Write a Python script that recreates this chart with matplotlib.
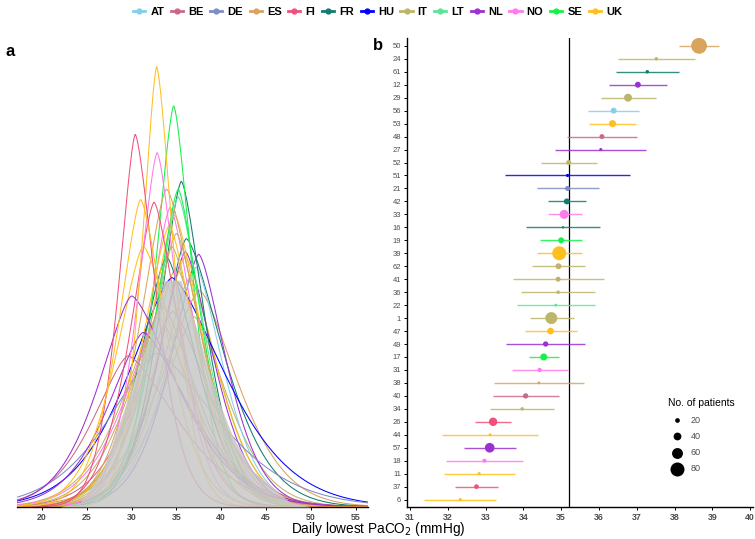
import numpy as np
import matplotlib
matplotlib.use('Agg')
import matplotlib.pyplot as plt
from matplotlib.lines import Line2D

plt.rcParams['font.family'] = ['Liberation Sans', 'DejaVu Sans']

# country colours
countries = ['AT', 'BE', 'DE', 'ES', 'FI', 'FR', 'HU', 'IT', 'LT', 'NL', 'NO', 'SE', 'UK']
colors = ['#87CEEB', '#C96A85', '#7E8CC8', '#D9A45E', '#F2507A', '#127C6E', '#0000FF',
          '#BDB56A', '#5EE39A', '#9A31D0', '#FF7BEA', '#14F24A', '#FFBF1F']
cmap = dict(zip(countries, colors))

# panel b, top to bottom
centers = ['50', '24', '61', '12', '29', '56', '53', '48', '27', '52', '51', '21', '42', '33', '16', '19', '39', '62',
           '41', '36', '22', '1', '47', '49', '17', '31', '38', '40', '34', '26', '44', '57', '18', '11', '37', '6']
country = ['ES', 'IT', 'FR', 'NL', 'IT', 'AT', 'UK', 'BE', 'NL', 'IT', 'HU', 'DE', 'FR', 'NO', 'FR', 'SE', 'UK', 'IT',
           'IT', 'IT', 'LT', 'IT', 'UK', 'NL', 'SE', 'NO', 'ES', 'BE', 'IT', 'FI', 'UK', 'NL', 'NO', 'UK', 'FI', 'UK']
mean = [38.65, 37.52, 37.28, 37.03, 36.77, 36.39, 36.36, 36.08, 36.05, 35.20, 35.17, 35.17, 35.15, 35.08, 35.05, 35.00,
        34.95, 34.93, 34.92, 34.92, 34.86, 34.74, 34.72, 34.59, 34.54, 34.43, 34.41, 34.06, 33.97, 33.20, 33.12, 33.11,
        32.97, 32.83, 32.76, 32.33]
lo = [38.12, 36.51, 36.46, 36.27, 36.06, 35.71, 35.75, 35.16, 34.85, 34.46, 33.52, 34.35, 34.64, 34.66, 34.07, 34.45,
      34.35, 34.23, 33.73, 33.94, 33.83, 34.17, 34.04, 33.55, 34.15, 33.70, 33.23, 33.20, 33.13, 32.73, 31.85, 32.42,
      31.96, 31.89, 32.19, 31.37]
hi = [39.19, 38.53, 38.11, 37.80, 37.50, 37.07, 36.97, 37.00, 37.25, 35.94, 36.82, 35.99, 35.67, 35.55, 36.04, 35.54,
      35.56, 35.64, 36.13, 35.90, 35.90, 35.33, 35.42, 35.63, 34.94, 35.18, 35.60, 34.95, 34.81, 33.67, 34.40, 33.80,
      34.00, 33.78, 33.34, 33.28]
n_pat = [92, 12, 12, 28, 41, 28, 35, 22, 10, 22, 10, 22, 28, 48, 5, 28, 80, 28, 22, 12, 8, 67, 33, 24, 35, 18, 8, 24,
         12, 44, 8, 52, 16, 10, 20, 10]
overall = 35.21

# panel a, density curve per centre (mode, peak height, left / right spread)
d_mode = [37.6, 37.0, 36.1, 37.5, 36.5, 37.2, 36.0, 34.6, 36.0, 35.0, 34.5, 32.8, 35.55, 34.3, 33.9, 34.7, 34.8, 34.5,
          33.0, 34.0, 35.2, 35.0, 34.2, 31.3, 35.2, 33.5, 33.9, 29.6, 33.5, 32.5, 31.3, 30.0, 32.85, 32.8, 30.4, 31.0]
d_peak = [0.083, 0.073, 0.103, 0.097, 0.088, 0.092, 0.096, 0.075, 0.098, 0.092, 0.088, 0.059, 0.125, 0.115, 0.096,
          0.154, 0.112, 0.100, 0.073, 0.085, 0.119, 0.105, 0.108, 0.067, 0.122, 0.077, 0.122, 0.058, 0.077, 0.117,
          0.100, 0.081, 0.136, 0.169, 0.143, 0.118]
d_sl = [4.2, 3.5, 2.8, 3.0, 3.1, 3.1, 3.1, 3.7, 2.9, 3.1, 4.6, 5.0, 2.4, 2.5, 2.9, 2.0, 2.8, 3.0, 3.7, 3.1, 2.5, 2.9,
        2.9, 3.7, 2.5, 3.7, 2.8, 3.7, 3.5, 2.5, 2.9, 3.5, 2.1, 1.6, 1.8, 2.4]
d_sr = [4.0, 3.5, 3.9, 2.9, 3.1, 2.9, 3.2, 3.9, 3.0, 3.1, 5.6, 6.3, 2.5, 2.7, 3.2, 2.0, 3.0, 3.0, 3.7, 2.5, 2.7, 2.9,
        2.9, 4.8, 2.5, 3.5, 3.4, 5.2, 3.5, 2.7, 3.7, 4.8, 2.2, 1.8, 2.2, 2.7]

# overall density (grey area)
all_x = [22.0, 24.3, 26.8, 28.1, 29.4, 30.7, 32.0, 33.0, 33.6, 34.5, 35.5, 36.3, 37.6, 38.5, 39.8, 41.3, 43.5, 47.6, 50.0]
all_y = [0.0, 0.002, 0.014, 0.027, 0.040, 0.053, 0.065, 0.078, 0.087, 0.087, 0.087, 0.078, 0.065, 0.053, 0.040,
         0.027, 0.014, 0.002, 0.0]


def dens(x, mu, h, sl, sr):
    z = np.where(x < mu, (mu - x) / sl, (x - mu) / sr)
    return h * np.exp(-0.5 * z ** 1.5)


def msize(v):
    d = max(2.2, 4.7 + 0.155 * (v - 20)) * 0.72
    return d ** 2


fig = plt.figure(figsize=(7.55, 5.39), dpi=100)
axa = fig.add_axes([0.0225, 0.0594, 0.465, 0.870])
axb = fig.add_axes([0.5395, 0.0594, 0.4575, 0.870])

# ---- panel a
xs = np.linspace(17.2, 56.4, 800)
for i in range(len(centers)):
    axa.plot(xs, dens(xs, d_mode[i], d_peak[i], d_sl[i], d_sr[i]), color=cmap[country[i]], lw=0.75)
axa.fill_between(all_x, all_y, 0, color='#c8c8c8', alpha=0.85, lw=0, zorder=5)
axa.set_xlim(17.2, 56.4)
axa.set_ylim(0, 0.18)
axa.set_xticks([20, 25, 30, 35, 40, 45, 50, 55])
axa.set_yticks([])
for s in ['left', 'top', 'right']:
    axa.spines[s].set_visible(False)
axa.spines['bottom'].set_linewidth(1.0)
axa.tick_params(axis='x', length=2.5, width=0.7, labelsize=6.3, labelcolor='#4d4d4d', pad=1.5)
for t in axa.get_xticklabels():
    t.set_fontweight('bold')

# ---- panel b
ypos = np.arange(len(centers))[::-1]
cols = [cmap[c] for c in country]
axb.hlines(ypos, lo, hi, colors=cols, lw=1.0, alpha=0.85, zorder=2)
axb.scatter(mean, ypos, s=[msize(v) for v in n_pat], c=cols, linewidths=0, zorder=3)
axb.axvline(overall, color='black', lw=0.9, zorder=1)
axb.set_xlim(30.93, 40.07)
axb.set_ylim(-0.57, 35.6)
axb.set_xticks(range(31, 41))
axb.set_yticks(ypos)
axb.set_yticklabels(centers)
for s in ['top', 'right']:
    axb.spines[s].set_visible(False)
axb.spines['left'].set_linewidth(1.0)
axb.spines['bottom'].set_linewidth(1.0)
axb.tick_params(axis='x', length=2.5, width=0.7, labelsize=6.3, labelcolor='#4d4d4d', pad=1.5)
axb.tick_params(axis='y', length=2.5, width=0.7, labelsize=5.5, labelcolor='#4d4d4d', pad=2)
for t in axb.get_xticklabels():
    t.set_fontweight('bold')

sizes_leg = [20, 40, 60, 80]
hs = [axb.scatter([], [], s=msize(v), c='black', linewidths=0) for v in sizes_leg]
leg = axb.legend(hs, [str(v) for v in sizes_leg], title='No. of patients', loc='upper left',
                 bbox_to_anchor=(0.735, 0.245), frameon=False, fontsize=6.5, title_fontsize=7.5,
                 labelspacing=0.8, handletextpad=0.6, borderpad=0.2)
leg._legend_box.align = 'left'
for t in leg.get_texts():
    t.set_color('#4d4d4d')

# ---- country legend
handles = [Line2D([0], [0], color=cmap[c], marker='o', markersize=3.5, lw=2.0) for c in countries]
fl = fig.legend(handles, countries, loc='upper center', bbox_to_anchor=(0.5, 1.005), ncol=13, frameon=False,
                handlelength=1.1, handletextpad=0.45, columnspacing=0.6, fontsize=8)
for t in fl.get_texts():
    t.set_fontweight('bold')

fig.text(0.5007, 0.0185, 'Daily lowest PaCO$_2$ (mmHg)', ha='center', va='center', fontsize=9.8)
fig.text(0.007, 0.905, 'a', fontsize=12, fontweight='bold', va='center')
fig.text(0.494, 0.915, 'b', fontsize=12, fontweight='bold', va='center')

fig.savefig('out.png', dpi=100)
